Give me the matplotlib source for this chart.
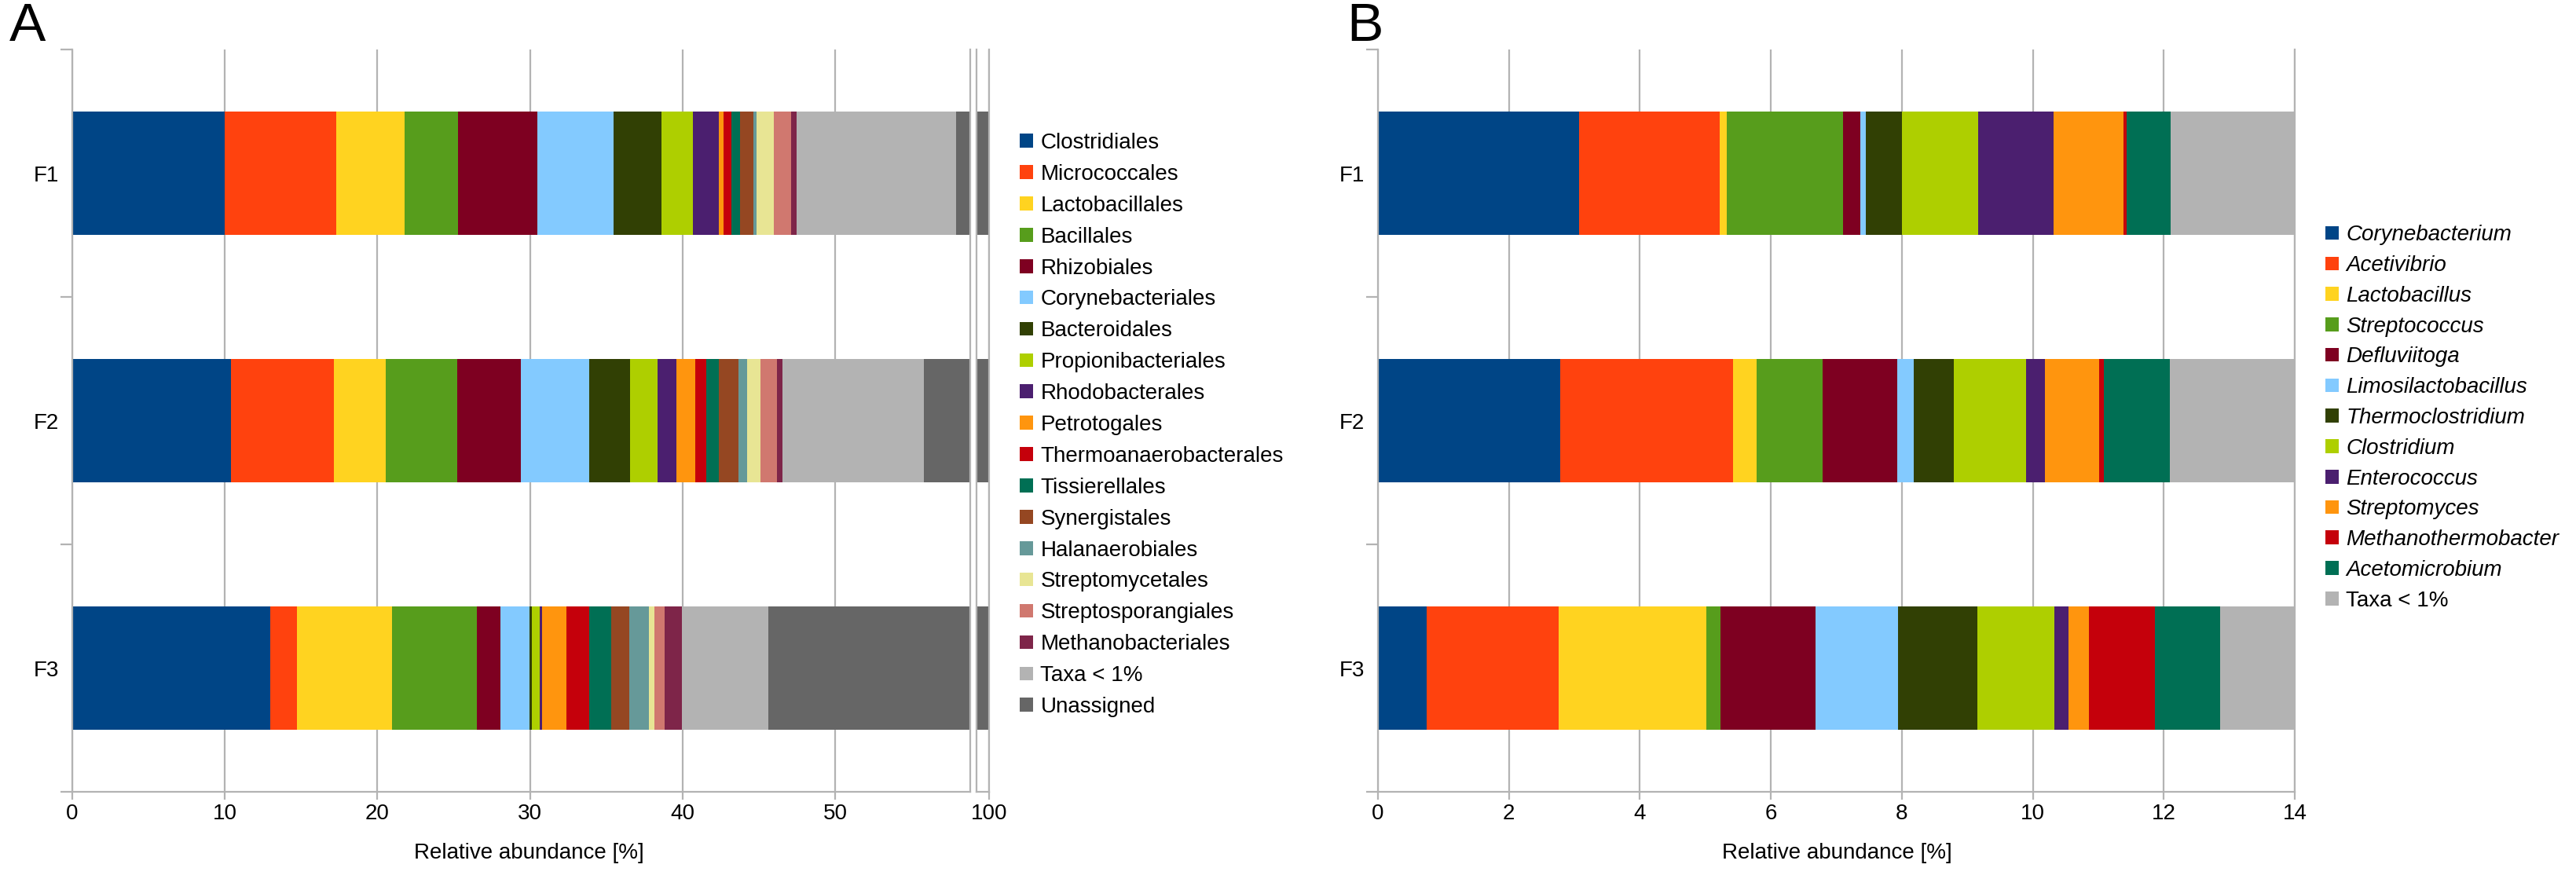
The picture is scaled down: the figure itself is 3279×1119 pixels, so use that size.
import matplotlib.pyplot as plt
from matplotlib.patches import Patch
import numpy as np

plt.rcParams['font.family'] = ['Liberation Sans', 'DejaVu Sans']

samples = ['F1', 'F2', 'F3']

# panel A - orders (% of reads)
orders = ['Clostridiales', 'Micrococcales', 'Lactobacillales', 'Bacillales', 'Rhizobiales',
          'Corynebacteriales', 'Bacteroidales', 'Propionibacteriales', 'Rhodobacterales',
          'Petrotogales', 'Thermoanaerobacterales', 'Tissierellales', 'Synergistales',
          'Halanaerobiales', 'Streptomycetales', 'Streptosporangiales', 'Methanobacteriales',
          'Taxa < 1%', 'Unassigned']
order_f1 = [10.00, 7.29, 4.50, 3.50, 5.17, 5.02, 3.13, 2.06, 1.71, 0.30, 0.53, 0.55, 0.88,
            0.21, 1.13, 1.13, 0.37, 10.45, 42.07]
order_f2 = [10.39, 6.74, 3.40, 4.71, 4.14, 4.48, 2.69, 1.81, 1.24, 1.24, 0.73, 0.78, 1.32,
            0.57, 0.86, 1.09, 0.37, 9.26, 44.18]
order_f3 = [12.99, 1.72, 6.23, 5.56, 1.54, 1.91, 0.18, 0.53, 0.11, 1.63, 1.49, 1.41, 1.23,
            1.25, 0.35, 0.68, 1.12, 5.69, 54.36]

# panel B - genera
genera = ['Corynebacterium', 'Acetivibrio', 'Lactobacillus', 'Streptococcus', 'Defluviitoga',
          'Limosilactobacillus', 'Thermoclostridium', 'Clostridium', 'Enterococcus',
          'Streptomyces', 'Methanothermobacter', 'Acetomicrobium', 'Taxa < 1%']
genus_f1 = [3.07, 2.15, 0.11, 1.77, 0.26, 0.09, 0.55, 1.17, 1.15, 1.06, 0.05, 0.67, 1.90]
genus_f2 = [2.78, 2.64, 0.36, 1.01, 1.14, 0.25, 0.61, 1.11, 0.28, 0.83, 0.08, 1.00, 1.91]
genus_f3 = [0.74, 2.02, 2.25, 0.22, 1.45, 1.26, 1.21, 1.18, 0.22, 0.31, 1.01, 0.99, 1.14]

colors_a = ['#004586', '#ff420e', '#ffd320', '#579d1c', '#7e0021', '#83caff', '#314004',
            '#aecf00', '#4b1f6f', '#ff950e', '#c5000b', '#006f54', '#954722', '#669999',
            '#e8e594', '#d0786f', '#7e2549', '#b3b3b3', '#666666']
colors_b = colors_a[:12] + ['#b3b3b3']

GRID = '#b3b3b3'
FS = 20

W, H = 3280, 1119
fig = plt.figure(figsize=(W / 100, H / 100), dpi=100)

bot = 1 - 1008 / H
hgt = (1008 - 63) / H
axA = fig.add_axes([92 / W, bot, (1235 - 92) / W, hgt])
axA2 = fig.add_axes([1243 / W, bot, (1259 - 1243) / W, hgt])
axB = fig.add_axes([1754 / W, bot, (2921 - 1754) / W, hgt])

ypos = np.arange(len(samples))


def stack(ax, data, colors):
    data = np.array(data)
    left = np.zeros(len(samples))
    for i in range(data.shape[1]):
        ax.barh(ypos, data[:, i], left=left, height=0.5, color=colors[i], linewidth=0)
        left += data[:, i]


def style(ax):
    ax.set_ylim(2.5, -0.5)
    ax.set_axisbelow(True)
    ax.grid(axis='x', color=GRID, linewidth=1.6)
    ax.spines['top'].set_visible(False)
    for s in ['left', 'bottom', 'right']:
        ax.spines[s].set_color(GRID)
        ax.spines[s].set_linewidth(1.6)
    ax.tick_params(axis='x', colors=GRID, labelcolor='black', labelsize=FS, length=7, width=1.6, pad=4)


stack(axA, [order_f1, order_f2, order_f3], colors_a)
stack(axA2, [order_f1, order_f2, order_f3], colors_a)
stack(axB, [genus_f1, genus_f2, genus_f3], colors_b)

for ax in [axA, axA2, axB]:
    style(ax)

for ax in [axA, axB]:
    ax.set_yticks([-0.5, 0.5, 1.5, 2.5])
    ax.set_yticklabels([])
    ax.set_yticks(ypos, minor=True)
    ax.set_yticklabels(samples, minor=True)
    ax.tick_params(axis='y', which='major', colors=GRID, length=11, width=1.6)
    ax.tick_params(axis='y', which='minor', length=0, labelsize=FS, pad=12)

axA.set_xlim(0, 58.85)
axA.set_xticks([0, 10, 20, 30, 40, 50])

axA2.set_xlim(99.15, 100)
axA2.set_xticks([100])
axA2.set_yticks([])

axB.set_xlim(0, 14)
axB.set_xticks(range(0, 15, 2))

fig.text(673 / W, 1 - 1086 / H, 'Relative abundance [%]', ha='center', va='center', fontsize=FS)
fig.text(2338 / W, 1 - 1086 / H, 'Relative abundance [%]', ha='center', va='center', fontsize=FS)

fig.text(12 / W, 1 - 2 / H, 'A', ha='left', va='top', fontsize=50)
fig.text(1714 / W, 1 - 2 / H, 'B', ha='left', va='top', fontsize=50)

hA = [Patch(facecolor=c, edgecolor='none') for c in colors_a]
legA = fig.legend(hA, orders, loc='center left', bbox_to_anchor=(1298 / W, 1 - 541 / H),
                  frameon=False, fontsize=FS, handlelength=0.6, handleheight=0.6,
                  handletextpad=0.35, labelspacing=0.5, borderaxespad=0, borderpad=0)

hB = [Patch(facecolor=c, edgecolor='none') for c in colors_b]
legB = fig.legend(hB, genera, loc='center left', bbox_to_anchor=(2960 / W, 1 - 532 / H),
                  frameon=False, fontsize=FS, handlelength=0.6, handleheight=0.6,
                  handletextpad=0.35, labelspacing=0.46, borderaxespad=0, borderpad=0)
for t in legB.get_texts()[:-1]:
    t.set_style('italic')

fig.savefig('out.png', dpi=100)
